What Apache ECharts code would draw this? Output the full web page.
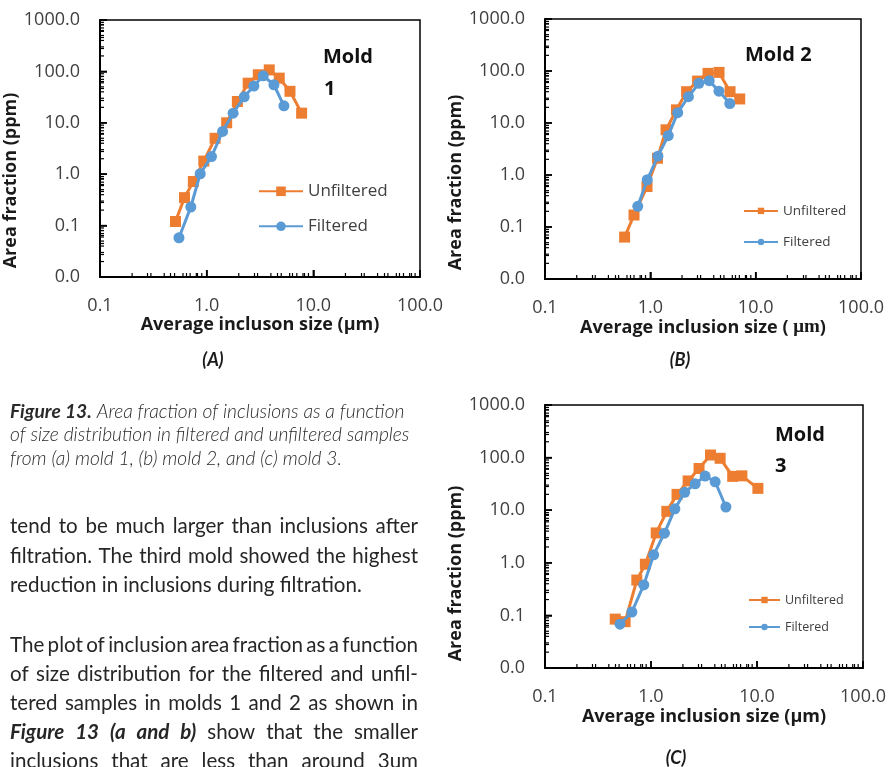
<!DOCTYPE html>
<html><head><meta charset="utf-8">
<script src="https://cdn.jsdelivr.net/npm/echarts@6/dist/echarts.min.js"></script>
<style>html,body{margin:0;padding:0;background:#fff}#c{width:896px;height:767px}</style>
</head><body><div id="c"></div>
<script>
// ---------- data ----------
const seriesNames = ['Unfiltered', 'Filtered'];
const xAxisRange = [0.1, 100];     // tick labels: 0.1, 1.0, 10.0, 100.0
const yAxisRange = [0.01, 1000];   // tick labels: 0.0, 0.1, 1.0, 10.0, 100.0, 1000.0

const mold1UnfilteredSize = [0.51, 0.62, 0.75, 0.94, 1.20, 1.54, 1.94, 2.45, 3.05, 3.86, 4.79, 6.04, 7.77];
const mold1UnfilteredArea = [0.12, 0.35, 0.72, 1.8, 5.0, 10.0, 26, 59, 86, 107, 74, 41, 15.4];
const mold1FilteredSize   = [0.55, 0.71, 0.87, 1.11, 1.41, 1.77, 2.25, 2.77, 3.39, 4.27, 5.30];
const mold1FilteredArea   = [0.058, 0.23, 1.02, 2.2, 6.8, 15.4, 32, 52, 82, 55, 21.4];

const mold2UnfilteredSize = [0.57, 0.70, 0.93, 1.17, 1.41, 1.77, 2.21, 2.81, 3.53, 4.49, 5.71, 7.06];
const mold2UnfilteredArea = [0.064, 0.17, 0.60, 2.1, 7.4, 17.9, 40, 64, 90, 94, 40, 29];
const mold2FilteredSize   = [0.76, 0.935, 1.18, 1.48, 1.82, 2.30, 2.89, 3.62, 4.48, 5.68];
const mold2FilteredArea   = [0.25, 0.81, 2.3, 5.7, 15.8, 32, 58, 65, 41, 23.7];

const mold3UnfilteredSize = [0.46, 0.57, 0.735, 0.885, 1.12, 1.41, 1.76, 2.24, 2.84, 3.64, 4.49, 5.90, 7.2, 10.2];
const mold3UnfilteredArea = [0.085, 0.076, 0.47, 0.94, 3.7, 9.5, 20, 36, 62, 112, 97, 44, 45, 26];
const mold3FilteredSize   = [0.51, 0.66, 0.855, 1.06, 1.34, 1.68, 2.08, 2.61, 3.24, 4.03, 5.09];
const mold3FilteredArea   = [0.068, 0.116, 0.38, 1.42, 3.66, 10.6, 21.9, 31.8, 44.6, 34.7, 11.5];

// ---------- styling ----------
const ORANGE = '#ED7D31', BLUE = '#5B9BD5';
const AXFONT = 'Open Sans';
const BODY = 'Lato';
const zip = (xs, ys) => xs.map((x, i) => [x, ys[i]]);
const fmt = v => Number(v).toFixed(1);

const grids = [
  {left: 100, top: 20, width: 320, height: 257, outerBoundsMode: 'none', show: true, borderColor: '#000', borderWidth: 1.5},
  {left: 545, top: 19, width: 316, height: 260, outerBoundsMode: 'none', show: true, borderColor: '#000', borderWidth: 1.5},
  {left: 545, top: 405, width: 318, height: 263, outerBoundsMode: 'none', show: true, borderColor: '#000', borderWidth: 1.5}
];
const xNames = [
  {name: 'Average incluson size (µm)', gap: 36},
  {name: 'Average inclusion size ( {s|μm})', gap: 35},
  {name: 'Average inclusion size (µm)', gap: 40}
];
const yNames = [{gap: 70, pad: 64}, {gap: 53, pad: 67}, {gap: 53, pad: 74}];
const titleStyle = () => ({fontFamily: AXFONT, fontWeight: 'bold', fontSize: 18, color: '#1a1a1a',
  rich: {s: {fontFamily: 'Liberation Serif', fontWeight: 'bold', fontSize: 19, color: '#1a1a1a'}}});
const tickParts = () => ({
  axisLine: {show: true, lineStyle: {color: '#000', width: 2}},
  axisTick: {show: true, inside: true, length: 7, lineStyle: {color: '#000', width: 1.5}},
  minorTick: {show: true, length: 4, lineStyle: {color: '#000', width: 1.2}},
  splitLine: {show: false}
});

const xAxis = [], yAxis = [];
grids.forEach((g, gi) => {
  xAxis.push(Object.assign({type: 'log', gridIndex: gi, min: xAxisRange[0], max: xAxisRange[1],
    axisLabel: {margin: 20, fontSize: 18, color: '#404040', fontFamily: AXFONT, formatter: fmt},
    name: xNames[gi].name, nameLocation: 'middle', nameGap: xNames[gi].gap, nameTextStyle: titleStyle()}, tickParts()));
  yAxis.push(Object.assign({type: 'log', gridIndex: gi, min: yAxisRange[0], max: yAxisRange[1],
    axisLabel: {margin: 20, fontSize: 18, color: '#404040', fontFamily: AXFONT, formatter: fmt},
    name: 'Area fraction (ppm)', nameLocation: 'middle', nameGap: yNames[gi].gap,
    nameTextStyle: Object.assign(titleStyle(), {padding: [0, yNames[gi].pad, 0, 0]})}, tickParts()));
});

const sets = [
  [mold1UnfilteredSize, mold1UnfilteredArea, mold1FilteredSize, mold1FilteredArea],
  [mold2UnfilteredSize, mold2UnfilteredArea, mold2FilteredSize, mold2FilteredArea],
  [mold3UnfilteredSize, mold3UnfilteredArea, mold3FilteredSize, mold3FilteredArea]
];
const series = [];
sets.forEach((s, gi) => {
  series.push({type: 'line', name: seriesNames[0], xAxisIndex: gi, yAxisIndex: gi,
    data: zip(s[0], s[1]), symbol: 'rect', symbolSize: 11, z: 2,
    lineStyle: {color: ORANGE, width: 3}, itemStyle: {color: ORANGE}});
  series.push({type: 'line', name: seriesNames[1], xAxisIndex: gi, yAxisIndex: gi,
    data: zip(s[2], s[3]), symbol: 'circle', symbolSize: 11, z: 3,
    lineStyle: {color: BLUE, width: 3}, itemStyle: {color: BLUE}});
});

const legendSpecs = [
  {name: 'Unfiltered', left: 258, cy: 193, w: 44, h: 12, fs: 17},
  {name: 'Filtered',   left: 258, cy: 228, w: 44, h: 12, fs: 17},
  {name: 'Unfiltered', left: 743, cy: 212, w: 34, h: 8, fs: 13.5},
  {name: 'Filtered',   left: 743, cy: 243, w: 34, h: 8, fs: 13.5},
  {name: 'Unfiltered', left: 748, cy: 601, w: 31, h: 8, fs: 12.5},
  {name: 'Filtered',   left: 748, cy: 628, w: 31, h: 8, fs: 12.5}
];
const legend = legendSpecs.map(l => ({
  data: [l.name], left: l.left, top: l.cy - l.fs * 0.6, padding: 0, itemWidth: l.w, itemHeight: l.h,
  textStyle: {fontFamily: AXFONT, fontSize: l.fs, color: '#404040'}
}));

// ---------- texts around the charts ----------
const graphic = [];
const ctx = document.createElement('canvas').getContext('2d');
const fontStr = (size, weight, style) => `${style || 'normal'} ${weight || 'normal'} ${size}px ${BODY}`;
const measure = (t, size, weight, style) => { ctx.font = fontStr(size, weight, style); return ctx.measureText(t).width; };
function addText(t, x, y, size, weight, style, fill) {
  graphic.push({type: 'text', x: x, y: y, silent: true,
    style: {text: t, fontFamily: BODY, fontSize: size, fontWeight: weight || 'normal', fontStyle: style || 'normal',
      fill: fill || '#2a2a2a', align: 'left', verticalAlign: 'middle'}});
}
const moldLabels = [['Mold', 323, 57], ['1', 324, 89], ['Mold 2', 745, 55], ['Mold', 775, 435], ['3', 775, 466]];
moldLabels.forEach(m => graphic.push({type: 'text', x: m[1], y: m[2], silent: true,
  style: {text: m[0], fontFamily: AXFONT, fontWeight: 'bold', fontSize: 20, fill: '#111', align: 'left', verticalAlign: 'middle'}}));
const panelCaps = [['(A)', 213, 360], ['(B)', 680, 360], ['(C)', 676, 758]];
panelCaps.forEach(c => graphic.push({type: 'text', x: c[1], y: c[2], silent: true,
  style: {text: c[0], fontFamily: BODY, fontWeight: 'bold', fontStyle: 'italic', fontSize: 18, fill: '#1a1a1a', align: 'center', verticalAlign: 'middle'}}));

const capSize = 332 / measure('from (a) mold 1, (b) mold 2, and (c) mold 3.', 1, 300, 'italic');
const captionLines = [
  [['Figure 13.', 'bold'], [' Area fraction of inclusions as a function', 300]],
  [['of size distribution in filtered and unfiltered samples', 300]],
  [['from (a) mold 1, (b) mold 2, and (c) mold 3.', 300]]
];
const captionY = [411.5, 435, 458.5];
captionLines.forEach((segs, i) => {
  let x = 10;
  segs.forEach(s => { addText(s[0], x, captionY[i], capSize, s[1], 'italic', '#2a2a2a'); x += measure(s[0], capSize, s[1], 'italic'); });
});

const bodySize = 352 / measure('reduction in inclusions during filtration.', 1, 'normal', 'normal');
const bodyLines = [
  {y: 526.5, j: true, words: 'tend to be much larger than inclusions after'},
  {y: 556,   j: true, words: 'filtration. The third mold showed the highest'},
  {y: 585,   j: false, words: 'reduction in inclusions during filtration.'},
  {y: 645,   j: true, words: 'The plot of inclusion area fraction as a function'},
  {y: 674.5, j: true, words: 'of size distribution for the filtered and unfil-'},
  {y: 703.5, j: true, words: 'tered samples in molds 1 and 2 as shown in'},
  {y: 732,   j: true, words: 'Figure 13 (a and b) show that the smaller', italicCount: 5},
  {y: 761,   j: true, words: 'inclusions that are less than around 3um'}
];
bodyLines.forEach(line => {
  const ws = line.words.split(' ');
  const styles = ws.map((w, k) => (line.italicCount && k < line.italicCount) ? ['italic', 'bold'] : ['normal', 'normal']);
  const widths = ws.map((w, k) => measure(w, bodySize, styles[k][1], styles[k][0]));
  const total = widths.reduce((a, b) => a + b, 0);
  const gap = line.j ? (408 - total) / (ws.length - 1) : measure(' ', bodySize, 'normal');
  let x = 10;
  ws.forEach((w, k) => { addText(w, x, line.y, bodySize, styles[k][1], styles[k][0], '#262626'); x += widths[k] + gap; });
});

const chart = echarts.init(document.getElementById('c'));
chart.setOption({
  backgroundColor: '#fff', animation: false,
  grid: grids, xAxis: xAxis, yAxis: yAxis, series: series, legend: legend, graphic: graphic
});

// Reinforce the log-axis tick marks, positioned through each axis' own scale
const decadeTicks = (lo, hi) => { const out = []; for (let e = Math.round(Math.log10(lo)); e <= Math.round(Math.log10(hi)); e++) out.push([Math.pow(10, e), true]); return out; };
const minorTicks = (lo, hi) => { const out = []; for (let e = Math.round(Math.log10(lo)); e < Math.round(Math.log10(hi)); e++) for (let k = 2; k <= 9; k++) out.push([k * Math.pow(10, e), false]); return out; };
const tickLines = [];
grids.forEach((g, gi) => {
  const finder = {xAxisIndex: gi, yAxisIndex: gi};
  const origin = chart.convertToPixel(finder, [xAxisRange[0], yAxisRange[0]]);
  decadeTicks(...xAxisRange).concat(minorTicks(...xAxisRange)).forEach(([v, major]) => {
    const p = chart.convertToPixel(finder, [v, yAxisRange[0]]);
    tickLines.push({type: 'line', silent: true, z: 5, shape: {x1: p[0], y1: origin[1], x2: p[0], y2: origin[1] - (major ? 7 : 4)},
      style: {stroke: '#000', lineWidth: major ? 1.5 : 1.2}});
  });
  decadeTicks(...yAxisRange).concat(minorTicks(...yAxisRange)).forEach(([v, major]) => {
    const p = chart.convertToPixel(finder, [xAxisRange[0], v]);
    tickLines.push({type: 'line', silent: true, z: 5, shape: {x1: origin[0], y1: p[1], x2: origin[0] + (major ? 7 : 4), y2: p[1]},
      style: {stroke: '#000', lineWidth: major ? 1.5 : 1.2}});
  });
});
chart.setOption({graphic: graphic.concat(tickLines)});
</script></body></html>
